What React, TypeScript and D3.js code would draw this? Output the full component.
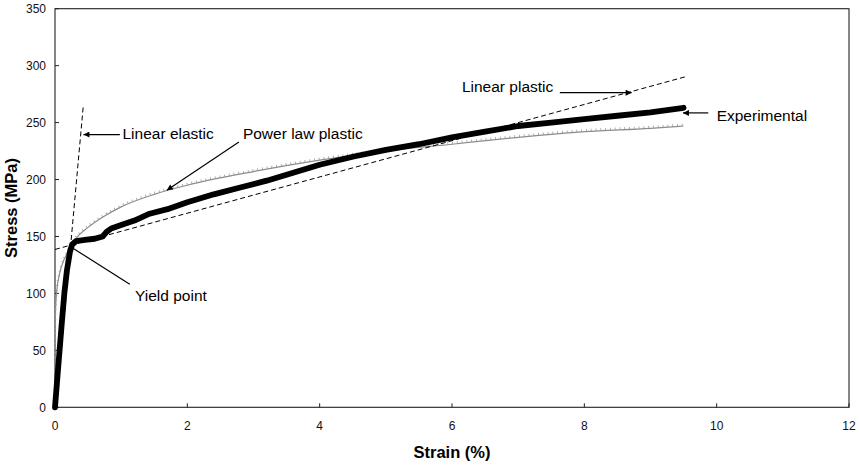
import React from "react";
import * as d3 from "d3";

// Strain (%) / stress (MPa) readings
const experimentalStrain = [0, 0.03, 0.065, 0.1, 0.141, 0.18, 0.227, 0.26, 0.32, 0.45, 0.6, 0.72, 0.78, 0.85, 1.0, 1.2, 1.43, 1.7, 2.0, 2.4, 2.8, 3.2, 3.6, 4.0, 4.5, 5.0, 5.5, 6.0, 6.5, 7.0, 7.5, 8.0, 8.5, 9.0, 9.5];
const experimentalStress = [0, 22, 47, 72, 100, 120, 137, 143, 146, 147, 148, 150, 154, 157, 160, 164, 170, 174, 180, 187, 193, 199, 206, 213, 220, 226, 231, 237, 242, 247, 250, 253, 256, 259, 263];

const powerLawStrain = [0, 0.002, 0.01, 0.03, 0.06, 0.1, 0.2, 0.3, 0.5, 0.75, 1, 1.5, 2, 3, 4, 5, 6, 7, 8, 9, 9.5];
const powerLawStress = [0, 70, 88, 104, 115, 124, 137, 147, 158, 168, 176, 187, 195, 207, 217, 225, 231, 237, 242, 245, 247];

const linearElasticStrain = [0.015, 0.428];
const linearElasticStress = [0, 265];

const linearPlasticStrain = [0, 9.55];
const linearPlasticStress = [138.6, 290.6];

const xTicks = [0, 2, 4, 6, 8, 10, 12];
const yTicks = [0, 50, 100, 150, 200, 250, 300, 350];

const zip = (xs: number[], ys: number[]): [number, number][] => xs.map((v, i) => [v, ys[i]]);

const W = 860;
const H = 466;
const FONT = "'Liberation Sans', Arial, sans-serif";

export default function App() {
  const x = d3.scaleLinear().domain([0, 12]).range([55, 849]);
  const y = d3.scaleLinear().domain([0, 350]).range([407.3, 8.7]);
  const line = d3
    .line<[number, number]>()
    .x((d) => x(d[0]))
    .y((d) => y(d[1]));
  const smooth = d3
    .line<[number, number]>()
    .x((d) => x(d[0]))
    .y((d) => y(d[1]))
    .curve(d3.curveMonotoneX);

  const experimental = zip(experimentalStrain, experimentalStress);
  const powerLaw = zip(powerLawStrain, powerLawStress);
  const elastic = zip(linearElasticStrain, linearElasticStress);
  const plastic = zip(linearPlasticStrain, linearPlasticStress);

  // annotation arrows in data units
  const arrows: { from: [number, number]; to: [number, number]; head: boolean }[] = [
    { from: [0.98, 239.5], to: [0.43, 239.5], head: true },
    { from: [2.78, 233], to: [1.69, 190.6], head: true },
    { from: [0.277, 139.5], to: [1.13, 108], head: false },
    { from: [7.63, 276.3], to: [8.715, 276.3], head: true },
    { from: [9.873, 258.5], to: [9.49, 258.5], head: true },
  ];
  const labels: { text: string; at: [number, number] }[] = [
    { text: "Linear elastic", at: [1.02, 235.3] },
    { text: "Power law plastic", at: [2.84, 235.3] },
    { text: "Yield point", at: [1.21, 93.2] },
    { text: "Linear plastic", at: [6.15, 276.8] },
    { text: "Experimental", at: [10.0, 251.1] },
  ];

  const x0 = x(0);
  const x1 = x(12);
  const y0 = y(0);
  const y1 = y(350);

  return (
    <svg
      width={W}
      height={H}
      viewBox={`0 0 ${W} ${H}`}
      style={{ position: "absolute", left: 0, top: 0, background: "#fff" }}
      fontFamily={FONT}
    >
      <defs>
        <marker id="head" viewBox="0 0 10 10" refX="10" refY="5" markerWidth="7" markerHeight="6" markerUnits="userSpaceOnUse" orient="auto">
          <path d="M0,0 L10,5 L0,10 z" fill="#000" />
        </marker>
      </defs>
      <rect x={0} y={0} width={W} height={H} fill="#fff" />

      {/* plot frame */}
      <rect x={x0} y={y1} width={x1 - x0} height={y0 - y1} fill="none" stroke="#222" strokeWidth={1.1} />

      {/* ticks */}
      {xTicks.map((t) => (
        <g key={`xt${t}`}>
          <line x1={x(t)} x2={x(t)} y1={y0} y2={y0 - 4} stroke="#222" strokeWidth={1} />
          <text x={x(t)} y={y0 + 23} textAnchor="middle" fontSize={12} fill="#111">
            {t}
          </text>
        </g>
      ))}
      {yTicks.map((t) => (
        <g key={`yt${t}`}>
          <line x1={x0} x2={x0 + 4} y1={y(t)} y2={y(t)} stroke="#222" strokeWidth={1} />
          <text x={x0 - 9} y={y(t) + 4.3} textAnchor="end" fontSize={12} fill="#111">
            {t}
          </text>
        </g>
      ))}

      {/* power law plastic fit */}
      <path d={smooth(powerLaw) ?? ""} fill="none" stroke="#8c8c8c" strokeWidth={1.2} />
      <path
        d={smooth(powerLaw) ?? ""}
        fill="none"
        stroke="#9a9a9a"
        strokeWidth={2.2}
        strokeDasharray="0.8 4"
        transform="translate(0,-1.4)"
      />

      {/* linear fits */}
      <path d={line(elastic) ?? ""} fill="none" stroke="#000" strokeWidth={1} strokeDasharray="5 3" />
      <path d={line(plastic) ?? ""} fill="none" stroke="#000" strokeWidth={1} strokeDasharray="5 3" />

      {/* experimental curve */}
      <path
        d={line(experimental) ?? ""}
        fill="none"
        stroke="#000"
        strokeWidth={5.8}
        strokeLinejoin="round"
        strokeLinecap="round"
      />

      {/* annotations */}
      {arrows.map((a, i) => (
        <line
          key={`a${i}`}
          x1={x(a.from[0])}
          y1={y(a.from[1])}
          x2={x(a.to[0])}
          y2={y(a.to[1])}
          stroke="#000"
          strokeWidth={1.2}
          markerEnd={a.head ? "url(#head)" : undefined}
        />
      ))}
      {labels.map((l) => (
        <text key={l.text} x={x(l.at[0])} y={y(l.at[1])} fontSize={15.5} fill="#000">
          {l.text}
        </text>
      ))}

      {/* axis titles */}
      <text x={452} y={457.5} textAnchor="middle" fontSize={16.5} fontWeight="bold" fill="#000">
        Strain (%)
      </text>
      <text
        transform={`translate(16.5,${(y0 + y1) / 2}) rotate(-90)`}
        textAnchor="middle"
        fontSize={16.5}
        fontWeight="bold"
        fill="#000"
      >
        Stress (MPa)
      </text>
    </svg>
  );
}
